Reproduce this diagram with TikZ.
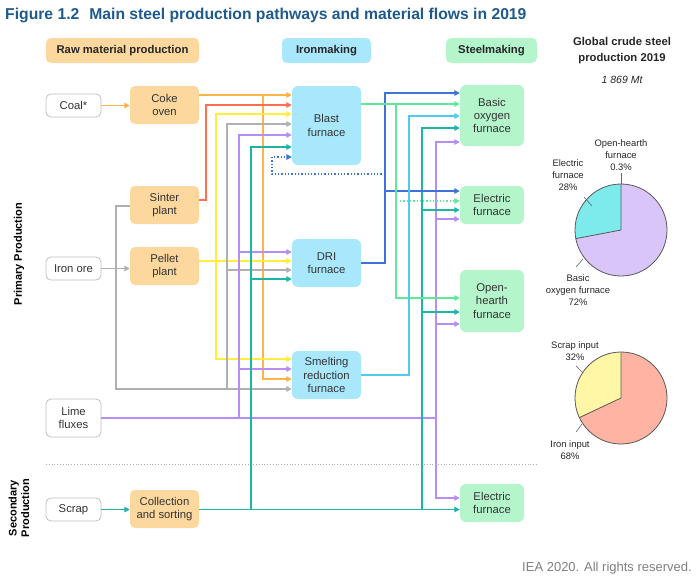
\documentclass[tikz,border=0pt]{standalone}
\usepackage{fontspec}
\setmainfont{Liberation Sans}
\usetikzlibrary{arrows.meta}
\definecolor{titlec}{HTML}{1E5A8C}
\definecolor{rawc}{HTML}{FDD89E}
\definecolor{ironc}{HTML}{A9E8FC}
\definecolor{steelc}{HTML}{B4F5CB}
\definecolor{txt}{HTML}{333333}
\definecolor{cOr}{HTML}{FFB347}
\definecolor{cRed}{HTML}{FF6F4E}
\definecolor{cYe}{HTML}{FFEF3A}
\definecolor{cGr}{HTML}{B0B0B0}
\definecolor{cPu}{HTML}{B68CF5}
\definecolor{cTe}{HTML}{1DB5A5}
\definecolor{cBl}{HTML}{3F73D9}
\definecolor{cGn}{HTML}{5EE89A}
\definecolor{cLb}{HTML}{4FCBF0}
\definecolor{pieBOF}{HTML}{D9C5F7}
\definecolor{pieEF}{HTML}{7DEAEC}
\definecolor{pieScrap}{HTML}{FFF6A6}
\definecolor{pieIron}{HTML}{FFB3A3}
\begin{document}
\begin{tikzpicture}[x=1pt,y=-1pt,
  every node/.style={font=\fontsize{11.3}{13.3}\selectfont, text=txt, align=center, inner sep=0pt},
  src/.style={draw=cGr!80, line width=0.8pt, fill=white, rounded corners=5pt, minimum width=55pt, minimum height=23pt},
  raw/.style={fill=rawc, rounded corners=5pt, minimum width=69pt, minimum height=38pt},
  iron/.style={fill=ironc, rounded corners=6pt, minimum width=69pt},
  steel/.style={fill=steelc, rounded corners=6pt, minimum width=64pt},
  head/.style={rounded corners=5pt, minimum height=25pt, font=\fontsize{11.3}{13}\selectfont\bfseries, text=black!85},
  lnk/.style={line width=1.3pt},
  flow/.style={line width=1.3pt, -{Triangle[length=5.5pt,width=5.5pt]}},
  lead/.style={draw=black!60, line width=0.6pt},
  small/.style={font=\fontsize{9.4}{11.8}\selectfont, text=black!85}
]
\useasboundingbox (0,0) rectangle (700,579);
% title
\node[anchor=base west, font=\fontsize{15.7}{18}\selectfont\bfseries, text=titlec] (title) at (5,19.5) {Figure 1.2\hspace{10pt}Main steel production pathways and material flows in 2019};
% headers
\node[head, fill=rawc, minimum width=153pt] (h1) at (122.5,50.5) {Raw material production};
\node[head, fill=ironc, minimum width=89pt] (h2) at (326.5,50.5) {Ironmaking};
\node[head, fill=steelc, minimum width=91pt] (h3) at (491.5,50.5) {Steelmaking};
\node[font=\fontsize{11.3}{16}\selectfont\bfseries, text=black!85] (h4) at (622,50.5) {Global crude steel\\production 2019};
\node[font=\fontsize{10.5}{12}\selectfont\itshape, text=black!85] (mt) at (622,80) {1 869 Mt};
% side labels
\node[rotate=90, font=\fontsize{11}{12.5}\selectfont\bfseries, text=black] (pp) at (19,254) {Primary Production};
\node[rotate=90, font=\fontsize{11}{12.5}\selectfont\bfseries, text=black] (sp) at (19,508) {Secondary\\Production};
% separator
\draw[cGr, line width=0.8pt, dotted] (46,464) -- (537,464);
% source nodes
\node[src] (coal) at (73.5,105.5) {Coal*};
\node[src] (ore) at (73.5,268.5) {Iron ore};
\node[src, minimum height=38pt] (lime) at (73.5,418) {Lime\\fluxes};
\node[src] (scrap) at (73.5,509.5) {Scrap};
% raw material
\node[raw] (coke) at (164.5,105) {Coke\\oven};
\node[raw] (sinter) at (164.5,205) {Sinter\\plant};
\node[raw] (pellet) at (164.5,266) {Pellet\\plant};
\node[raw] (coll) at (164.5,509) {Collection\\and sorting};
% ironmaking
\node[iron, minimum height=79pt] (bf) at (326.5,125.5) {Blast\\furnace};
\node[iron, minimum height=48pt] (dri) at (326.5,263) {DRI\\furnace};
\node[iron, minimum height=48pt] (srf) at (326.5,375) {Smelting\\reduction\\furnace};
% steelmaking
\node[steel, minimum height=61pt] (bof) at (492,115.5) {Basic\\oxygen\\furnace};
\node[steel, minimum height=38pt] (eaf) at (492,205) {Electric\\furnace};
\node[steel, minimum height=62pt] (ohf) at (492,301) {Open-\\hearth\\furnace};
\node[steel, minimum height=38pt] (eaf2) at (492,503) {Electric\\furnace};
% coal
\draw[flow, cOr] (coal.east) -- (coke.west |- coal.east);
% orange
\draw[flow, cOr] (coke.east |- 0,95) -- (bf.west |- 0,95);
\draw[flow, cOr] (263,95) |- (srf.west |- 0,379);
% red
\draw[flow, cRed] (sinter.east |- 0,200) -| (206,105) -- (bf.west |- 0,105);
% yellow
\draw[flow, cYe] (pellet.east |- 0,261) -- (dri.west |- 0,261);
\draw[flow, cYe] (216,261) |- (bf.west |- 0,114);
\draw[flow, cYe] (216,261) |- (srf.west |- 0,359);
% gray
\draw[flow, cGr] (ore.east) -- (pellet.west |- ore.east);
\draw[lnk, cGr] (116,268.5) |- (sinter.west |- 0,206);
\draw[flow, cGr] (116,268.5) |- (srf.west |- 0,389);
\draw[flow, cGr] (227,389) |- (bf.west |- 0,124);
\draw[flow, cGr] (227,270) -- (dri.west |- 0,270);
% purple
\draw[lnk, cPu] (lime.east) -- (436,418);
\draw[flow, cPu] (239,418) |- (bf.west |- 0,135);
\draw[flow, cPu] (239,252) -- (dri.west |- 0,252);
\draw[flow, cPu] (239,369) -- (srf.west |- 0,369);
\draw[flow, cPu] (436,418) |- (bof.west |- 0,142);
\draw[flow, cPu] (436,219) -- (eaf.west |- 0,219);
\draw[flow, cPu] (436,324) -- (ohf.west |- 0,324);
\draw[flow, cPu] (436,418) |- (eaf2.west |- 0,498);
% teal
\draw[flow, cTe] (scrap.east) -- (coll.west |- scrap.east);
\draw[flow, cTe] (coll.east |- 0,509.5) -- (eaf2.west |- 0,509.5);
\draw[flow, cTe] (251,509.5) |- (bf.west |- 0,147);
\draw[flow, cTe] (251,279) -- (dri.west |- 0,279);
\draw[flow, cTe] (422,509.5) |- (bof.west |- 0,128);
\draw[flow, cTe] (422,210) -- (eaf.west |- 0,210);
\draw[flow, cTe] (422,312) -- (ohf.west |- 0,312);
% blue (DRI output)
\draw[flow, cBl] (dri.east) -| (385,93) -- (bof.west |- 0,93);
\draw[flow, cBl] (385,191) -- (eaf.west |- 0,191);
\draw[flow, cBl, dotted, line width=1.4pt] (385,174) -| (272,157) -- (bf.west |- 0,157);
% green (BF output)
\draw[flow, cGn] (bf.east |- 0,104) -- (bof.west |- 0,104);
\draw[flow, cGn] (396,104) |- (ohf.west |- 0,298);
\draw[flow, cGn, dotted, line width=1.4pt] (400,201) -- (eaf.west |- 0,201);
% light blue (SRF output)
\draw[flow, cLb] (srf.east) -| (409,116) -- (bof.west |- 0,116);
% pie 1
\begin{scope}[shift={(621,230)}, yscale=-1]
  \fill[pieBOF] (0,0) circle (46);
  \fill[pieEF] (0,0) -- (90:46) arc (90:190.8:46) -- cycle;
  \draw[black!65, line width=0.8pt] (190.8:46) -- (0,0) -- (90:46);
  \draw[black!65, line width=0.8pt] (0,0) circle (46);
\end{scope}
\node[small] (lOH) at (621,155) {Open-hearth\\furnace\\0.3\%};
\node[small] (lEF) at (568,175) {Electric\\furnace\\28\%};
\node[small] (lBOF) at (578,290) {Basic\\oxygen furnace\\72\%};
\draw[lead] (621,173) -- (621,184);
\draw[lead] (584,197) -- (592,206);
\draw[lead] (576,267) -- (583,259);
% pie 2
\begin{scope}[shift={(621,398)}, yscale=-1]
  \fill[pieIron] (0,0) circle (46);
  \fill[pieScrap] (0,0) -- (90:46) arc (90:205.2:46) -- cycle;
  \draw[black!65, line width=0.8pt] (205.2:46) -- (0,0) -- (90:46);
  \draw[black!65, line width=0.8pt] (0,0) circle (46);
\end{scope}
\node[small] (lSc) at (575,351) {Scrap input\\32\%};
\node[small] (lIr) at (570,450) {Iron input\\68\%};
\draw[lead] (576,366) -- (583,373);
\draw[lead] (576,432) -- (582,424);
% copyright
\node[anchor=base east, font=\fontsize{13}{14}\selectfont, text=black!50] (cp) at (692,571) {IEA 2020. All rights reserved.};
\end{tikzpicture}
\end{document}
